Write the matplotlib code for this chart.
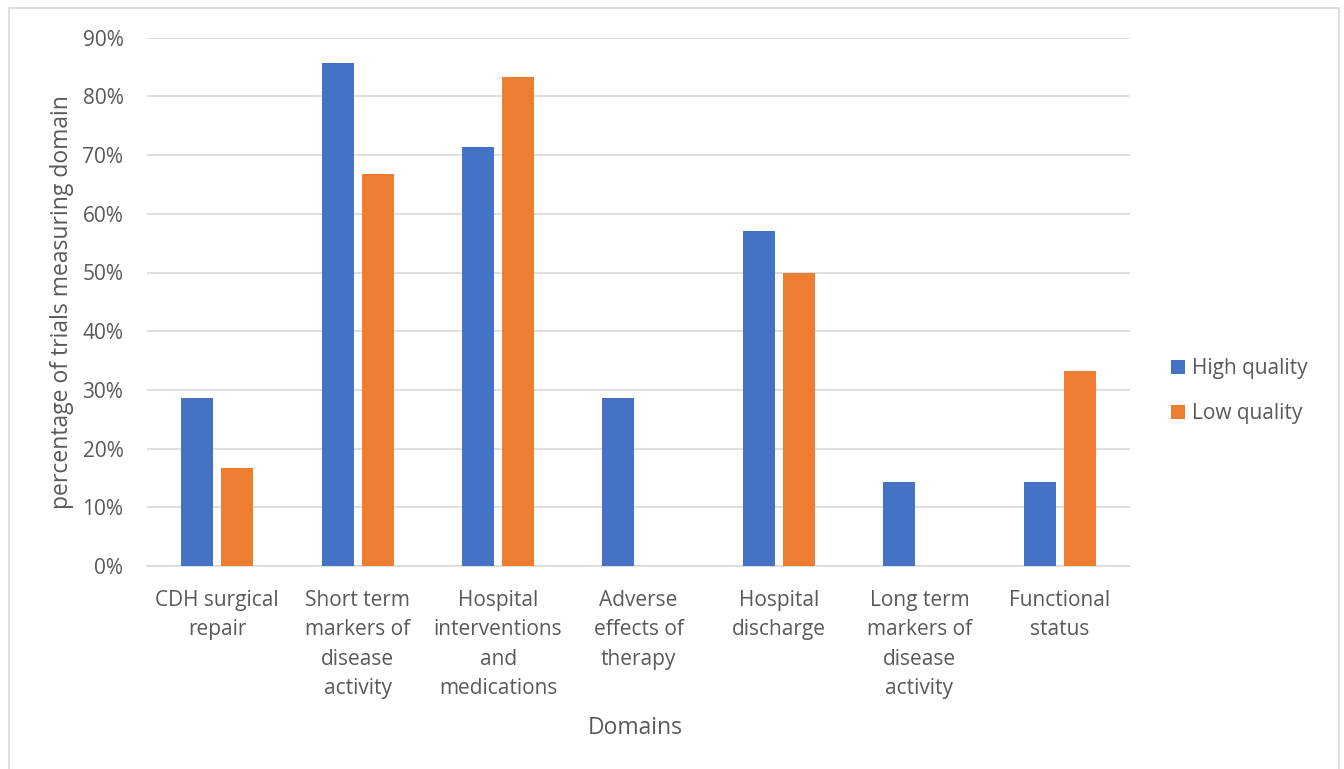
import matplotlib.pyplot as plt
import numpy as np
from matplotlib.patches import Rectangle
from matplotlib.ticker import PercentFormatter

plt.rcParams['font.family'] = ['Open Sans', 'DejaVu Sans']

domains = ["CDH surgical\nrepair", "Short term\nmarkers of\ndisease\nactivity",
           "Hospital\ninterventions\nand\nmedications", "Adverse\neffects of\ntherapy",
           "Hospital\ndischarge", "Long term\nmarkers of\ndisease\nactivity",
           "Functional\nstatus"]
high_quality = [28.6, 85.7, 71.4, 28.6, 57.1, 14.3, 14.3]
low_quality = [16.7, 66.7, 83.3, 0.0, 50.0, 0.0, 33.3]
series_names = ["High quality", "Low quality"]

blue = "#4472C4"
orange = "#ED7D31"
text_color = "#595959"
grid_color = "#D9D9D9"

W, H = 1344, 769
fig = plt.figure(figsize=(W / 100, H / 100), dpi=100)
ax = fig.add_axes([147 / W, 1 - 566 / H, (1130 - 147) / W, (566 - 37.7) / H])

x = np.arange(len(domains))
bw = 0.228
off = 0.1425
ax.bar(x - off, high_quality, bw, color=blue, label=series_names[0], zorder=3)
ax.bar(x + off, low_quality, bw, color=orange, label=series_names[1], zorder=3)

ax.set_xlim(-0.5, len(domains) - 0.5)
ax.set_ylim(0, 90)
ax.set_yticks(np.arange(0, 91, 10))
ax.yaxis.set_major_formatter(PercentFormatter(decimals=0))
ax.grid(axis='y', color=grid_color, linewidth=1.2, zorder=0)
for s in ['top', 'right', 'left']:
    ax.spines[s].set_visible(False)
ax.spines['bottom'].set_color(grid_color)
ax.spines['bottom'].set_linewidth(1.2)
ax.tick_params(axis='both', length=0, colors=text_color, labelsize=15)
ax.tick_params(axis='y', pad=17)
ax.tick_params(axis='x', pad=17.5)
ax.set_xticks(x)
ax.set_xticklabels(domains, linespacing=1.51, va='top')

ax.set_ylabel("percentage of trials measuring domain", color=text_color, fontsize=16.5)
ax.yaxis.set_label_coords((62 - 147) / (1130 - 147), 0.5)
ax.yaxis.label.set_va('center')
ax.set_xlabel("Domains", color=text_color, fontsize=16.5)
ax.xaxis.set_label_coords(0.497, -(728 - 566) / (566 - 37.7))
ax.xaxis.label.set_va('center')

leg = ax.legend(loc='center left', bbox_to_anchor=(1171 / W, 1 - 391 / H),
                bbox_transform=fig.transFigure, frameon=False, fontsize=15,
                handlelength=0.65, handleheight=0.65, handletextpad=0.35,
                labelspacing=1.15, labelcolor=text_color,
                borderaxespad=0, borderpad=0)

fig.patches.append(Rectangle((8.5 / W, -10 / H), (1338.5 - 8.5) / W, (761 + 10) / H,
                             transform=fig.transFigure, fill=False,
                             edgecolor="#D9D9D9", linewidth=1.2))

fig.savefig("out.png", dpi=100, facecolor='white')
